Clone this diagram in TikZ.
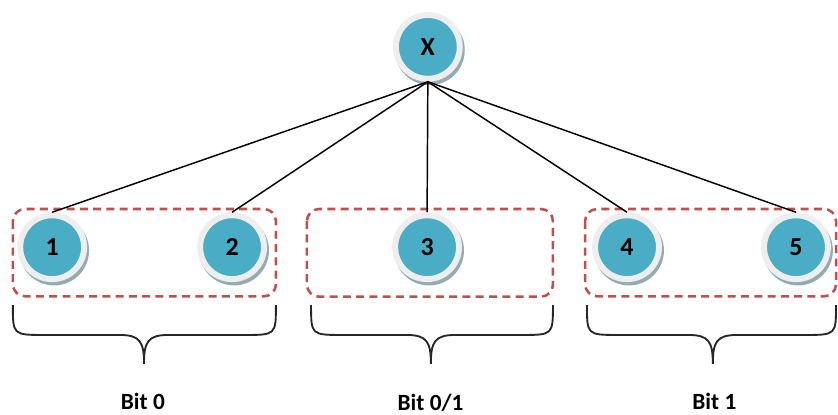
\documentclass[tikz,border=0pt]{standalone}
\usepackage{fontspec}
\setmainfont{Carlito}
\definecolor{ballfill}{HTML}{4BACC6}
\definecolor{ballring}{HTML}{EEEEEE}
\definecolor{ballshadow}{HTML}{93ACB4}
\definecolor{groupred}{HTML}{C0504D}
\tikzset{
  ball/.style={shape=circle, fill=ballfill, draw=ballring, line width=4.5pt,
    minimum size=1.69cm, inner sep=0pt, font=\fontsize{19.5}{19.5}\selectfont\bfseries,
    preaction={draw=ballshadow, fill=ballshadow, transform canvas={shift={(1.5pt,-2.5pt)}}}},
  group/.style={draw=groupred, line width=1.9pt, dash pattern=on 6pt off 4pt, rounded corners=0.32cm},
  brace/.style={draw=black!85, line width=1.4pt},
  bitlabel/.style={anchor=base, font=\fontsize{17.5}{17.5}\selectfont\bfseries}
}
% curly brace under a group: left end, tip, right end
\newcommand{\bitbrace}[3]{%
  \draw[brace] (#1,2.91) .. controls (#1,2.117) .. (#1+0.85,2.117) -- (#2-0.64,2.117)
    .. controls (#2-0.1,2.117) and (#2,1.93) .. (#2,1.35)
    .. controls (#2,1.93) and (#2+0.1,2.117) .. (#2+0.64,2.117) -- (#3-0.85,2.117)
    .. controls (#3,2.117) .. (#3,2.91);
}
\begin{document}
\begin{tikzpicture}
\useasboundingbox (0,0) rectangle (22.172,10.98);
% groups
\draw[group] (0.34,5.45) rectangle (7.30,3.14);
\draw[group] (8.12,5.45) rectangle (14.63,3.13);
\draw[group] (15.48,5.45) rectangle (22.12,3.14);
\node[ball] (X) at (11.32,9.74) {X};
\node[ball] (1) at (1.38,4.44) {1};
\node[ball] (2) at (6.14,4.44) {2};
\node[ball] (3) at (11.30,4.44) {3};
\node[ball] (4) at (16.59,4.44) {4};
\node[ball] (5) at (21.06,4.44) {5};
\path [-, line width=1.1pt, draw=black] (X.south) edge (1.north);
\path [-, line width=1.1pt, draw=black] (X.south) edge (2.north);
\path [-, line width=1.1pt, draw=black] (X.south) edge (3.north);
\path [-, line width=1.1pt, draw=black] (X.south) edge (4.north);
\path [-, line width=1.1pt, draw=black] (X.south) edge (5.north);
% braces and bit values
\bitbrace{0.34}{3.81}{7.30}
\bitbrace{8.23}{11.40}{14.63}
\bitbrace{15.53}{18.86}{22.12}
\node[bitlabel] (b0) at (3.78,0.15) {Bit 0};
\node[bitlabel] (b01) at (11.39,0.12) {Bit 0/1};
\node[bitlabel] (b1) at (18.90,0.15) {Bit 1};
\end{tikzpicture}
\end{document}
